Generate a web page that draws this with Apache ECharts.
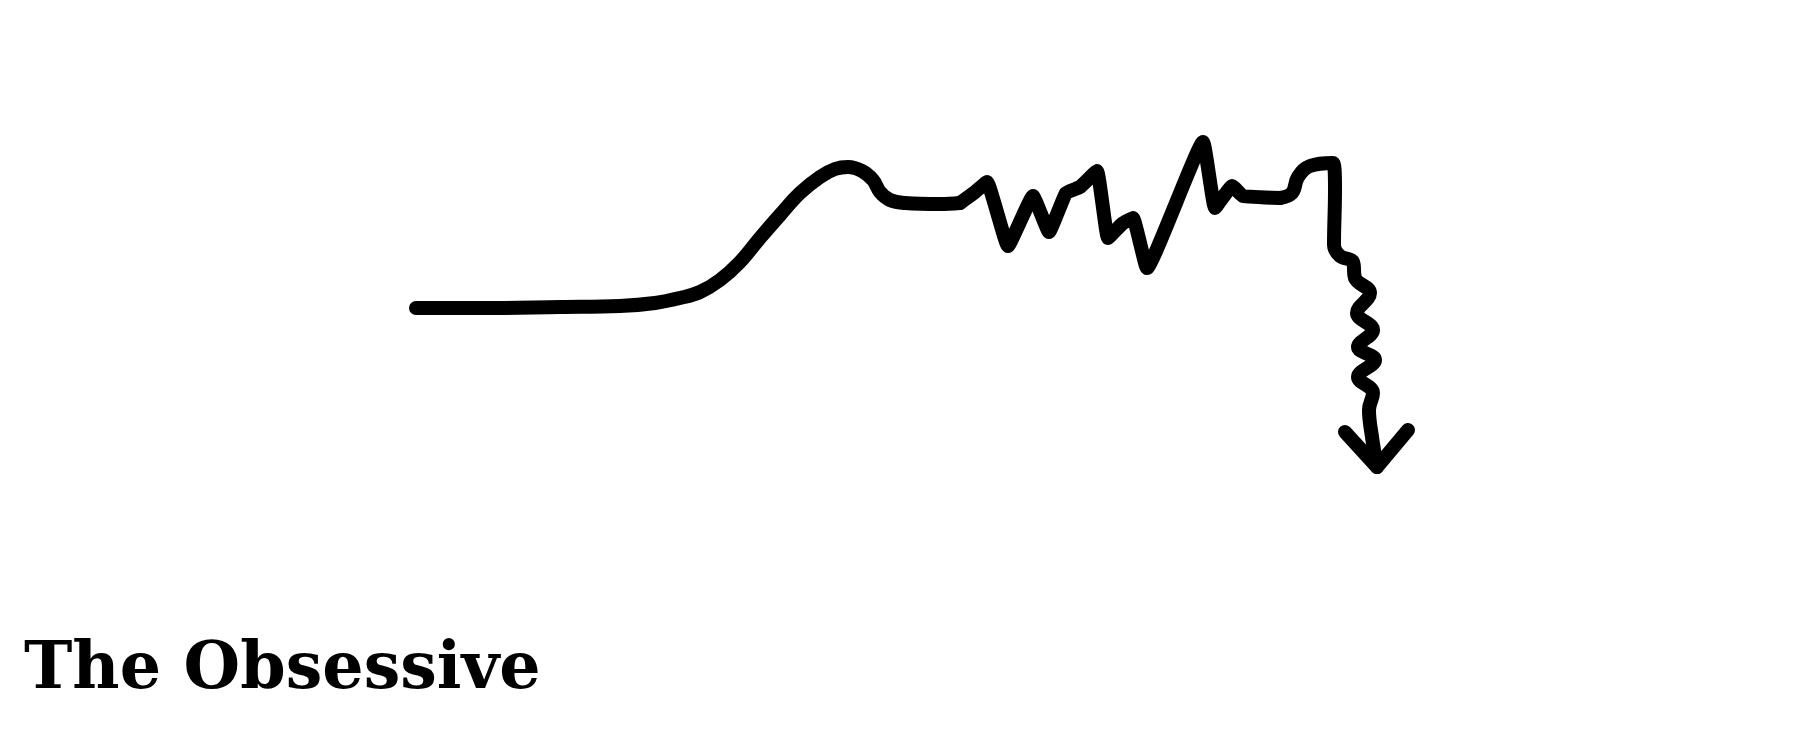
<!DOCTYPE html>
<html>
<head>
<meta charset="utf-8">
<script src="https://cdn.jsdelivr.net/npm/echarts@6/dist/echarts.min.js"></script>
<style>
html,body{margin:0;padding:0;background:#fff;}
#chart{width:1816px;height:746px;}
</style>
</head>
<body>
<div id="chart"></div>
<script>
// Hand-drawn path of "The Obsessive" (x: progress, y: level)
// Calm rise and hump
const calmX = [416, 480, 560, 620, 655, 680, 700, 720, 740, 760, 780, 800, 820, 835, 848, 862, 873, 880, 890, 905, 940, 960];
const calmY = [308, 308, 307, 306, 303, 298, 292, 280, 262, 238, 215, 193, 177, 169, 167, 171, 180, 192, 200, 203, 204, 203];
// Jagged obsessive phase
const jagX = [960, 975, 987, 1008, 1033, 1049, 1066, 1080, 1097, 1108, 1122, 1133, 1147, 1203, 1215, 1232, 1243, 1280];
const jagY = [203, 192, 182, 246, 196, 232, 193, 187, 171, 238, 224, 218, 268, 142, 208, 186, 196, 198];
// Hook and squiggly fall
const fallX = [1280, 1292, 1298, 1310, 1333, 1335, 1334, 1340, 1353, 1355, 1370, 1357, 1373, 1358, 1375, 1358, 1373, 1369, 1372, 1377];
const fallY = [198, 193, 177, 166, 163, 190, 245, 256, 262, 278, 293, 313, 330, 347, 360, 377, 393, 410, 437, 467];
// Arrow head
const arrowX = [1345, 1377, 1408];
const arrowY = [432, 467, 430];
const titleText = 'The Obsessive';

const zip = (xs, ys) => xs.map((x, i) => [x, ys[i]]);
const stroke = {color: '#000', width: 14, cap: 'round', join: 'round'};
const seg = (xs, ys, smooth) => ({
  type: 'line', data: zip(xs, ys), smooth: smooth,
  showSymbol: false, symbol: 'none', lineStyle: stroke
});

const chart = echarts.init(document.getElementById('chart'));
chart.setOption({
  backgroundColor: '#ffffff',
  animation: false,
  title: {
    text: titleText,
    left: 24,
    top: 638,
    padding: 0,
    textStyle: {
      fontFamily: 'DejaVu Serif',
      fontWeight: 'bold',
      fontSize: 65,
      lineHeight: 66,
      color: '#000'
    }
  },
  grid: {left: 0, right: 0, top: 0, bottom: 0},
  xAxis: {type: 'value', min: 0, max: 1816, show: false},
  yAxis: {type: 'value', min: 0, max: 746, inverse: true, show: false},
  series: [
    seg(calmX, calmY, 0.4),
    seg(jagX, jagY, 0.1),
    seg(fallX, fallY, 0.4),
    seg(arrowX, arrowY, false)
  ]
});
</script>
</body>
</html>
